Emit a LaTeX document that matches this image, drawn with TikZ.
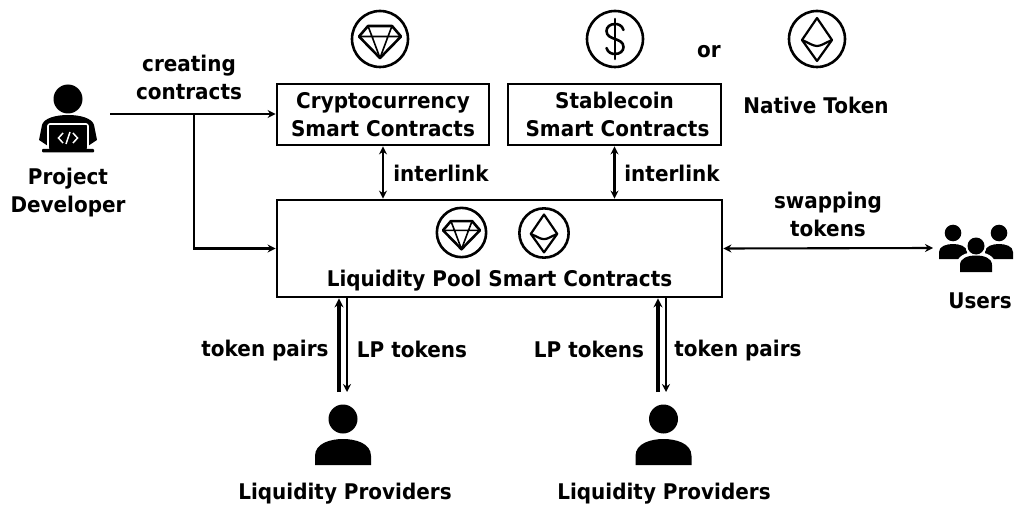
\documentclass[tikz,border=0pt]{standalone}
\usepackage{fontspec}
\setmainfont{DejaVu Sans}[BoldFeatures={FakeStretch=0.925},BoldFont={DejaVu Sans Bold}]
\usetikzlibrary{arrows.meta,calc}
\tikzset{
  x=1pt,y=-1pt,
  lbl/.style={font=\fontsize{21.6}{28}\selectfont\bfseries,align=center,inner sep=0pt,text height=15pt,text depth=5pt,yshift=-1.3pt},
  boxn/.style={draw=black,line width=2.8pt,font=\fontsize{21.6}{28.5}\selectfont\bfseries,align=center,inner sep=0pt},
  conn/.style={line width=2.1pt,-{Stealth[length=8pt,width=8pt]}},
  connb/.style={line width=2.1pt,{Stealth[length=8pt,width=8pt]}-{Stealth[length=8pt,width=8pt]}},
  thick up/.style={line width=3.2pt,-{Stealth[length=9pt,width=9pt]}},
  coin/.style={draw=black,line width=2.6pt,fill=white},
  glyph/.style={draw=black,line width=2.2pt,line join=round,line cap=round},
  pics/gem/.style={code={
    \draw[coin] (0,0) circle (28);
    \draw[glyph,line width=2.6pt] (-12,-13) -- (12,-13) -- (21,-2.5) -- (0,19) -- (-21,-2.5) -- cycle;
    \draw[glyph,line width=1.6pt] (-21,-2.5) -- (21,-2.5) (-12,-13) -- (-8,-2.5) -- (0,19) -- (8,-2.5) -- (12,-13);
  }},
  pics/ether/.style={code={
    \draw[coin] (0,0) circle (28);
    \draw[glyph] (0,-21) -- (15,1) -- (0,22) -- (-15,1) -- cycle;
    \draw[glyph] (-15,1) .. controls (-8,4) and (-4,7) .. (0,7) .. controls (4,7) and (8,4) .. (15,1);
  }},
  pics/dollar/.style={code={
    \draw[coin] (0,0) circle (28);
    \draw[glyph,line width=2.6pt] (0,-20) -- (0,20);
    \draw[glyph,line width=2.6pt] (8.5,-9) .. controls (7,-14) and (3,-15) .. (0,-15) .. controls (-5,-15) and (-8.5,-12) .. (-8.5,-8) .. controls (-8.5,-3) and (-4,-1.5) .. (0,0) .. controls (4,1.5) and (8.5,3) .. (8.5,8) .. controls (8.5,12) and (5,15) .. (0,15) .. controls (-3,15) and (-7,14) .. (-8.5,9);
  }},
  pics/person/.style={code={
    \fill (0,-24) circle (14.5);
    \fill (-28,22) -- (-28,13) .. controls (-28,0) and (-12,-4) .. (0,-4) .. controls (12,-4) and (28,0) .. (28,13) -- (28,22) -- cycle;
  }},
  pics/minip/.style={code={
    \fill (0,-14) circle (8.3);
    \fill (-14,12) -- (-14,5) .. controls (-14,-1) and (-6,-3) .. (0,-3) .. controls (6,-3) and (14,-1) .. (14,5) -- (14,12) -- cycle;
  }},
}
\begin{document}
\begin{tikzpicture}
\useasboundingbox (0,0) rectangle (1017,505);

% boxes
\node[boxn,minimum width=212pt,minimum height=61pt] (crypto) at (383,114.5) {Cryptocurrency\\Smart Contracts};
\node[boxn,minimum width=213pt,minimum height=61pt] (stable) at (614.5,114.5) {Stablecoin\\\hspace*{6pt}Smart Contracts};
\node[boxn,minimum width=445pt,minimum height=97pt] (pool) at (499.5,248.5) {};

% free ends
\coordinate (devout) at (110,114);
\coordinate (branch) at (194,114);
\coordinate (usersin) at (933,248);
\coordinate (lp1a) at (339,392);
\coordinate (lp1b) at (347,392);
\coordinate (lp2a) at (658,392);
\coordinate (lp2b) at (666,392);

% connectors
\draw[conn] (devout) -- (devout -| crypto.west);
\draw[conn] (branch) |- (pool.west);
\draw[connb] (crypto.south) -- (crypto.south |- pool.north);
\draw[connb] (stable.south) -- (stable.south |- pool.north);
\draw[connb] (pool.east) -- (usersin);
\draw[thick up] (lp1a) -- (lp1a |- pool.south);
\draw[conn] (lp1b |- pool.south) -- (lp1b);
\draw[thick up] (lp2a) -- (lp2a |- pool.south);
\draw[conn] (lp2b |- pool.south) -- (lp2b);

% coins
\pic at (380,39) {gem};
\pic at (615,39) {dollar};
\pic at (817,39) {ether};
\pic[scale=.88] at (461.5,232.5) {gem};
\pic[scale=.88] at (544,233) {ether};

% developer
\fill (68,99) circle (14.5);
\fill (39,140) -- (42,125) .. controls (44,118) and (56,115) .. (68,115) .. controls (80,115) and (92,118) .. (94,125) -- (97,140) -- (88,146) -- (48,146) -- cycle;
\draw[white,fill=black,line width=1.6pt,rounded corners=2pt] (48,124) rectangle (88,150);
\fill[rounded corners=1pt] (42,149) rectangle (94,152.5);
\draw[white,line width=1.5pt] (63,133) -- (58.5,138) -- (63,143) (73,133) -- (77.5,138) -- (73,143) (70,132) -- (66,144);

% providers
\pic at (343,443) {person};
\pic at (663.5,443) {person};

% users
\pic at (953,247) {minip};
\pic at (999,247) {minip};
\fill[white] (976,246) circle (10.5);
\fill[white] (957,272) -- (957,264) .. controls (957,256) and (966,252) .. (976,252) .. controls (986,252) and (995,256) .. (995,264) -- (995,272) -- cycle;
\fill (976,246) circle (8.5);
\fill (960,272) -- (960,265) .. controls (960,258) and (968,255.5) .. (976,255.5) .. controls (984,255.5) and (992,258) .. (992,265) -- (992,272) -- cycle;

% labels
\node[lbl] (l1) at (189,65) {creating};
\node[lbl] (l2) at (189,93) {contracts};
\node[lbl] (l3) at (68,178) {Project};
\node[lbl] (l4) at (68,206) {Developer};
\node[lbl] (l5) at (709,51) {or};
\node[lbl] (l6) at (816,107) {Native Token};
\node[lbl] (l7) at (441,175) {interlink};
\node[lbl] (l8) at (672,175) {interlink};
\node[lbl] (l9) at (828,202) {swapping};
\node[lbl] (l10) at (828,230) {tokens};
\node[lbl] (l11) at (980,302) {Users};
\node[lbl] (l12) at (499.5,280) {Liquidity Pool Smart Contracts};
\node[lbl] (l13) at (265,350) {token pairs};
\node[lbl] (l14) at (412,351) {LP tokens};
\node[lbl] (l15) at (589,351) {LP tokens};
\node[lbl] (l16) at (738,350) {token pairs};
\node[lbl] (l17) at (345,493) {Liquidity Providers};
\node[lbl] (l18) at (664,493) {Liquidity Providers};
\end{tikzpicture}
\end{document}
